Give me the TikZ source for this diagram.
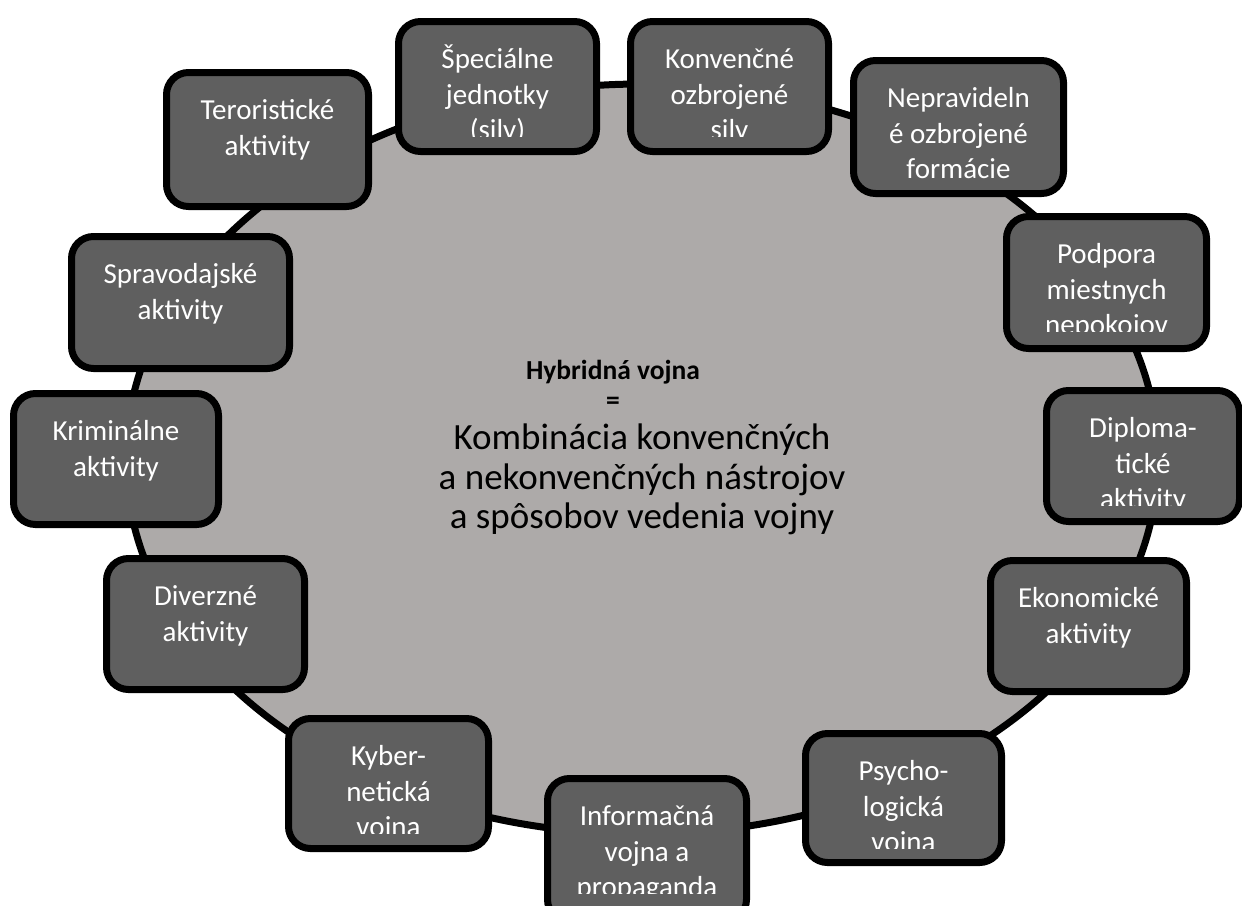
\documentclass[tikz,border=0pt]{standalone}
\usepackage{fontspec}
\setmainfont{Carlito}
\definecolor{boxgray}{RGB}{95,95,95}
\definecolor{ringgray}{RGB}{173,170,169}
\newcommand{\gbox}[7]{%
  \node[box, minimum width={#4-#2-7}, minimum height={#5-#3-7}] (#1) at ({(#2+#4)/2},{(#3+#5)/2}) {};
  \begin{scope}
    \clip (#2,#3) rectangle (#4,#3+#7);
    \node[boxtext] (#1-t) at ({(#2+#4)/2},#3+25.5) {\strut #6};
  \end{scope}}
\begin{document}
\begin{tikzpicture}[x=1pt,y=-1pt,
  box/.style={draw=black, line width=7pt, fill=boxgray, rounded corners=22pt, inner sep=0pt},
  boxtext/.style={text=white, font=\fontsize{29}{35.5}\selectfont, align=center, inner sep=0pt, anchor=north},
  ring/.style={draw=black, line width=7pt, fill=ringgray},
  ctext/.style={font=\fontsize{37}{40}\selectfont, inner sep=0pt, anchor=base},
  ctitle/.style={font=\fontsize{27.5}{35}\selectfont\bfseries, inner sep=0pt, anchor=base}]
\useasboundingbox (0,0) rectangle (1242,905);
\draw[ring] (642,459) ellipse [x radius=516, y radius=375];
\node[ctitle] (c1) at (613,379) {Hybridná vojna};
\node[ctitle] (c2) at (613,409) {=};
\node[ctext] (c3) at (642,449) {Kombinácia konvenčných};
\node[ctext] (c4) at (642,489) {a nekonvenčných nástrojov};
\node[ctext] (c5) at (642,528) {a spôsobov vedenia vojny};
\gbox{ter}{163}{69}{372}{210}{Teroristické\\aktivity}{130}
\gbox{spe}{395}{18}{600}{155}{Špeciálne\\jednotky\\(sily)}{118}
\gbox{kon}{627}{18}{832}{155}{Konvenčné\\ozbrojené\\sily}{118}
\gbox{nep}{850}{57}{1067}{197}{Nepravideln\\é ozbrojené\\formácie}{130}
\gbox{pod}{1003}{213}{1210}{352}{Podpora\\miestnych\\nepokojov}{118}
\gbox{dip}{1043}{387}{1243}{525}{Diploma-\\tické\\aktivity}{118}
\gbox{eko}{987}{557}{1190}{695}{Ekonomické\\aktivity}{130}
\gbox{psy}{802}{730}{1005}{866}{Psycho-\\logická\\vojna}{118}
\gbox{inf}{544}{775}{750}{925}{Informačná\\vojna a\\propaganda}{118}
\gbox{kyb}{285}{715}{492}{852}{Kyber-\\netická\\vojna}{118}
\gbox{div}{103}{555}{308}{693}{Diverzné\\aktivity}{130}
\gbox{kri}{10}{390}{222}{528}{Kriminálne\\aktivity}{130}
\gbox{spr}{68}{233}{293}{372}{Spravodajské\\aktivity}{130}
\end{tikzpicture}
\end{document}
